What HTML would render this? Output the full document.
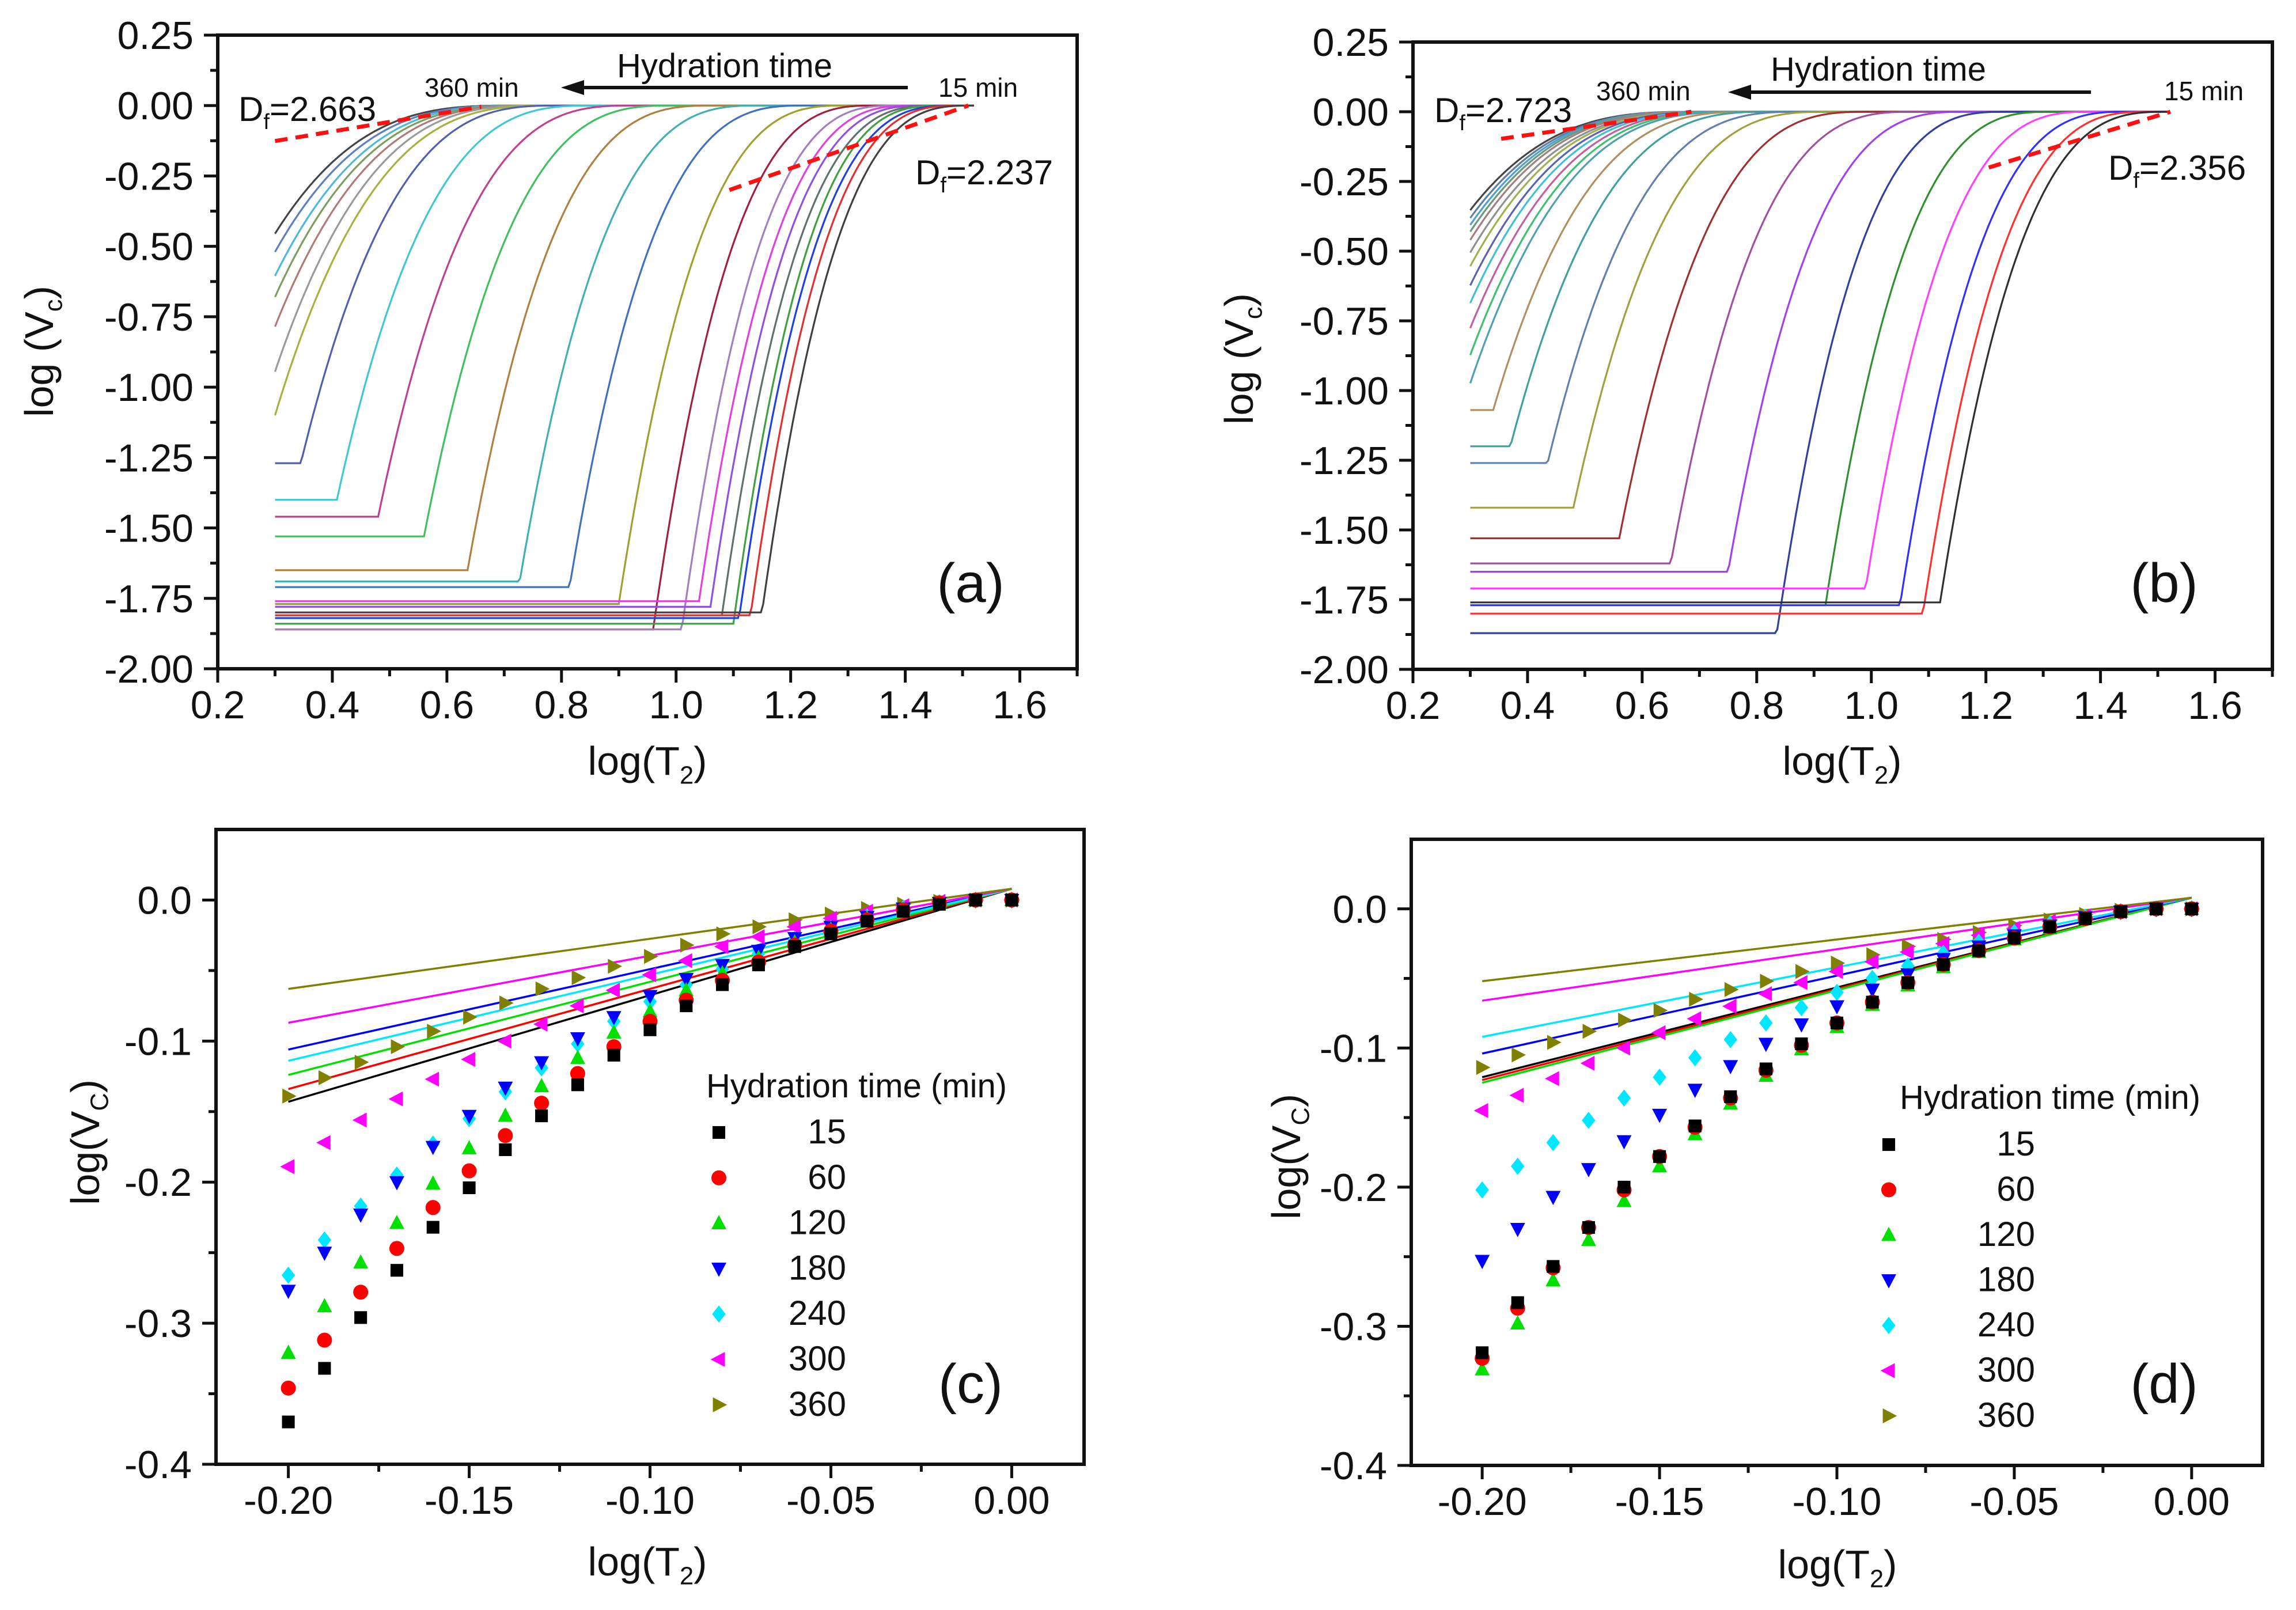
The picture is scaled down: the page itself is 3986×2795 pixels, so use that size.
<!DOCTYPE html>
<html>
<head>
<meta charset="utf-8">
<style>
html,body{margin:0;padding:0;background:#fff;}
svg{display:block;}
text{font-family:"Liberation Sans",Arial,sans-serif;fill:#111;}
</style>
</head>
<body>
<svg id="fig" xmlns="http://www.w3.org/2000/svg" width="3986" height="2795" viewBox="0 0 3986 2795"></svg>
<script>
// ---------- Panel (a) data ----------
const aStart = [-0.455,-0.52,-0.605,-0.68,-0.785,-0.945,-1.10,-1.27,-1.40,-1.46,-1.53,-1.65,-1.69,-1.71,-1.77,-1.86,-1.86,-1.76,-1.78,-1.81,-1.84,-1.82,-1.81,-1.80];
const aBreak = [0.3,0.3,0.3,0.3,0.3,0.3,0.3,0.345,0.408,0.48,0.56,0.636,0.727,0.814,0.90,0.96,1.01,1.04,1.06,1.08,1.10,1.11,1.13,1.15];
const aEnd   = [0.72,0.73,0.74,0.75,0.76,0.77,0.79,0.80,0.86,0.93,1.00,1.07,1.15,1.23,1.30,1.35,1.39,1.42,1.44,1.46,1.47,1.49,1.50,1.52];
const aColors = ["#444444","#5b7fbf","#4fb8d8","#7aa060","#b07a7a","#9a9a9a","#a8b040","#5060b0","#40c8d0","#c04090","#40c060","#b08040","#40b0b0","#4070c0","#a0a030","#a02040","#a080c0","#e040e0","#9050e0","#607070","#40a040","#2040e0","#e03030","#404040"];
// ---------- Panel (b) data ----------
const bStart = [-0.353,-0.381,-0.406,-0.43,-0.46,-0.505,-0.554,-0.623,-0.686,-0.776,-0.873,-0.974,-1.07,-1.20,-1.26,-1.42,-1.53,-1.62,-1.65,-1.87,-1.77,-1.71,-1.77,-1.80,-1.76];
const bBreak = [0.3,0.3,0.3,0.3,0.3,0.3,0.3,0.3,0.3,0.3,0.3,0.3,0.34,0.37,0.435,0.48,0.56,0.65,0.75,0.835,0.92,0.99,1.05,1.09,1.12];
const bEnd   = [0.70,0.705,0.71,0.715,0.72,0.73,0.735,0.74,0.75,0.76,0.77,0.78,0.80,0.83,0.88,0.93,1.00,1.08,1.17,1.24,1.32,1.39,1.45,1.49,1.52];
const bColors = ["#444444","#6080a0","#50a0d0","#6a9a80","#a08080","#909090","#a0b050","#6060b0","#40c0d0","#c060a0","#40c070","#50a0b0","#b09060","#40a0a0","#6080b0","#a0a040","#a03030","#a050a0","#a040f0","#3040a0","#309030","#ff40ff","#3030ff","#ff3030","#303030"];
// ---------- Panels (c),(d) data ----------
const xT2 = [-0.20,-0.19,-0.18,-0.17,-0.16,-0.15,-0.14,-0.13,-0.12,-0.11,-0.10,-0.09,-0.08,-0.07,-0.06,-0.05,-0.04,-0.03,-0.02,-0.01,0.00];
const seriesNames = ["15","60","120","180","240","300","360"];
const c15  = [-0.37,-0.332,-0.296,-0.2625,-0.232,-0.204,-0.177,-0.153,-0.131,-0.11,-0.092,-0.075,-0.06,-0.046,-0.033,-0.024,-0.015,-0.008,-0.003,0,0];
const c60  = [-0.346,-0.312,-0.278,-0.247,-0.218,-0.192,-0.167,-0.144,-0.123,-0.104,-0.086,-0.071,-0.057,-0.044,-0.032,-0.022,-0.014,-0.007,-0.002,0,0];
const c120 = [-0.321,-0.288,-0.257,-0.229,-0.201,-0.176,-0.153,-0.132,-0.112,-0.094,-0.079,-0.064,-0.052,-0.041,-0.030,-0.021,-0.013,-0.007,-0.002,0,0];
const c180 = [-0.277,-0.25,-0.223,-0.2,-0.175,-0.153,-0.133,-0.115,-0.098,-0.083,-0.068,-0.056,-0.046,-0.036,-0.027,-0.019,-0.012,-0.006,-0.002,0,0];
const c240 = [-0.266,-0.241,-0.217,-0.195,-0.173,-0.155,-0.136,-0.119,-0.102,-0.086,-0.072,-0.06,-0.049,-0.038,-0.028,-0.02,-0.012,-0.006,-0.002,0,0];
const c300 = [-0.189,-0.172,-0.156,-0.141,-0.127,-0.113,-0.1,-0.088,-0.075,-0.064,-0.053,-0.043,-0.033,-0.026,-0.019,-0.013,-0.008,-0.004,-0.001,0,0];
const c360 = [-0.139,-0.126,-0.115,-0.104,-0.093,-0.083,-0.073,-0.063,-0.055,-0.047,-0.04,-0.032,-0.024,-0.019,-0.014,-0.01,-0.006,-0.003,-0.001,0,0];
const cFitStart = [-0.143,-0.134,-0.124,-0.106,-0.114,-0.087,-0.063];
const cFitEnd   = [0.008,0.008,0.008,0.008,0.008,0.008,0.008];
const d15  = [-0.319,-0.283,-0.257,-0.229,-0.2,-0.178,-0.156,-0.135,-0.115,-0.097,-0.082,-0.067,-0.053,-0.04,-0.03,-0.021,-0.013,-0.007,-0.002,0,0];
const d60  = [-0.323,-0.287,-0.258,-0.229,-0.202,-0.178,-0.157,-0.136,-0.116,-0.098,-0.082,-0.067,-0.053,-0.04,-0.03,-0.021,-0.013,-0.007,-0.002,0,0];
const d120 = [-0.331,-0.298,-0.267,-0.238,-0.210,-0.185,-0.162,-0.140,-0.120,-0.101,-0.085,-0.069,-0.055,-0.042,-0.031,-0.022,-0.014,-0.007,-0.002,0,0];
const d180 = [-0.253,-0.23,-0.207,-0.187,-0.167,-0.148,-0.13,-0.113,-0.097,-0.083,-0.07,-0.058,-0.047,-0.036,-0.027,-0.019,-0.012,-0.006,-0.002,0,0];
const d240 = [-0.202,-0.185,-0.168,-0.152,-0.136,-0.121,-0.107,-0.094,-0.082,-0.071,-0.06,-0.05,-0.041,-0.032,-0.024,-0.017,-0.011,-0.006,-0.002,0,0];
const d300 = [-0.145,-0.134,-0.122,-0.111,-0.1,-0.089,-0.079,-0.07,-0.061,-0.053,-0.045,-0.038,-0.031,-0.025,-0.019,-0.014,-0.009,-0.005,-0.002,0,0];
const d360 = [-0.114,-0.105,-0.096,-0.088,-0.08,-0.073,-0.065,-0.058,-0.052,-0.045,-0.039,-0.033,-0.027,-0.022,-0.017,-0.012,-0.008,-0.004,-0.001,0,0];
const dFitStart = [-0.121,-0.123,-0.125,-0.104,-0.092,-0.066,-0.052];
const dFitEnd   = [0.008,0.008,0.008,0.008,0.008,0.008,0.008];
// tick labels
const abXTicks = ["0.2","0.4","0.6","0.8","1.0","1.2","1.4","1.6"];
const abYTicks = ["0.25","0.00","-0.25","-0.50","-0.75","-1.00","-1.25","-1.50","-1.75","-2.00"];
const cdXTicks = ["-0.20","-0.15","-0.10","-0.05","0.00"];
const cdYTicks = ["0.0","-0.1","-0.2","-0.3","-0.4"];

const NS = "http://www.w3.org/2000/svg";
const svg = document.getElementById("fig");
function mk(tag, attrs, name, parent){
  const el = document.createElementNS(NS, tag);
  for (const k in attrs) el.setAttribute(k, attrs[k]);
  
  
  (parent || svg).appendChild(el);
  return el;
}
function txt(str, x, y, size, anchor, name, parent, extra){
  const t = mk("text", Object.assign({x:x, y:y, "font-size":size, "text-anchor":anchor||"middle"}, extra||{}), name, parent);
  t.textContent = str;
  return t;
}
function panel(P){
  P.sx = v => P.x0 + (v - P.xmin) / (P.xmax - P.xmin) * (P.x1 - P.x0);
  P.sy = v => P.y1 - (v - P.ymin) / (P.ymax - P.ymin) * (P.y1 - P.y0);
  return P;
}
function frame(P, g, xTickVals, xLabels, xMinor, yTickVals, yLabels, yMinor){
  mk("rect", {x:P.x0, y:P.y0, width:P.x1-P.x0, height:P.y1-P.y0, fill:"none", stroke:"#111", "stroke-width":6}, "plot-frame", g);
  xTickVals.forEach((v,i)=>{
    const X = P.sx(v);
    mk("line", {x1:X, y1:P.y1, x2:X, y2:P.y1+24, stroke:"#111", "stroke-width":5}, "x-tick", g);
    txt(xLabels[i], X, P.y1+86, 68, "middle", "x-tick-label", g);
  });
  xMinor.forEach(v=>{
    const X = P.sx(v);
    mk("line", {x1:X, y1:P.y1, x2:X, y2:P.y1+13, stroke:"#111", "stroke-width":5}, "x-minor-tick", g);
  });
  yTickVals.forEach((v,i)=>{
    const Y = P.sy(v);
    mk("line", {x1:P.x0-24, y1:Y, x2:P.x0, y2:Y, stroke:"#111", "stroke-width":5}, "y-tick", g);
    txt(yLabels[i], P.x0-42, Y+24, 68, "end", "y-tick-label", g);
  });
  yMinor.forEach(v=>{
    const Y = P.sy(v);
    mk("line", {x1:P.x0-13, y1:Y, x2:P.x0, y2:Y, stroke:"#111", "stroke-width":5}, "y-minor-tick", g);
  });
}
function subTitle(g, base, sub, tail, x, y, size, rotate, name){
  const attrs = {x:x, y:y, "font-size":size, "text-anchor":"middle"};
  if (rotate) attrs.transform = "rotate(-90 "+x+" "+y+")";
  const t = mk("text", attrs, name, g);
  t.appendChild(document.createTextNode(base));
  const s = mk("tspan", {"font-size":size*0.62, dy:size*0.22}, name+"-subscript", t);
  s.textContent = sub;
  const r = mk("tspan", {dy:-size*0.22}, name+"-tail", t);
  r.textContent = tail;
  return t;
}
function curveY(p, xb, xe, x){
  if (x <= xb) return p;
  if (x >= xe) return 0;
  const t = (x - xb) / (xe - xb);
  return p * Math.pow(1 - t, 3);
}
function drawCurves(P, g, starts, breaks, ends, colors){
  for (let i = 0; i < starts.length; i++){
    let d = "";
    for (let x = 0.3; x <= 1.5201; x += 0.004){
      const y = curveY(starts[i], breaks[i], ends[i], x);
      d += (d ? "L" : "M") + P.sx(x).toFixed(1) + "," + P.sy(y).toFixed(1);
    }
    mk("path", {d:d, fill:"none", stroke:colors[i], "stroke-width":3.2}, "curve-"+i, g);
  }
}
function range(a, b, s){ const r=[]; for(let v=a; v<=b+1e-9; v+=s) r.push(+v.toFixed(4)); return r; }

// ---------- marker drawing ----------
const mColors = ["#000000","#ff0000","#00e000","#0000ff","#00e8ff","#ff00ff","#808000"];
function marker(g, k, X, Y, r, name){
  const c = mColors[k];
  if (k === 0) return mk("rect", {x:X-r*0.85, y:Y-r*0.85, width:r*1.7, height:r*1.7, fill:c}, name, g);
  if (k === 1) return mk("circle", {cx:X, cy:Y, r:r, fill:c}, name, g);
  let pts;
  if (k === 2) pts = [[X,Y-r*1.1],[X+r,Y+r*0.8],[X-r,Y+r*0.8]];
  if (k === 3) pts = [[X,Y+r*1.1],[X+r,Y-r*0.8],[X-r,Y-r*0.8]];
  if (k === 4) pts = [[X,Y-r*1.15],[X+r*0.9,Y],[X,Y+r*1.15],[X-r*0.9,Y]];
  if (k === 5) pts = [[X-r*1.1,Y],[X+r*0.8,Y-r],[X+r*0.8,Y+r]];
  if (k === 6) pts = [[X+r*1.1,Y],[X-r*0.8,Y-r],[X-r*0.8,Y+r]];
  return mk("polygon", {points:pts.map(p=>p.join(",")).join(" "), fill:c}, name, g);
}
function drawScatter(P, g, seriesList, fitStart, fitEnd){
  seriesList.forEach((s,k)=>{
    mk("line", {x1:P.sx(xT2[0]), y1:P.sy(fitStart[k]), x2:P.sx(0), y2:P.sy(fitEnd[k]), stroke:mColors[k], "stroke-width":3.5}, "fit-line-"+seriesNames[k], g);
  });
  for (let k = seriesList.length-1; k >= 0; k--){
    seriesList[k].forEach((v,i)=>{
      marker(g, k, P.sx(xT2[i]), P.sy(v), 13, "point-"+seriesNames[k]);
    });
  }
}
function legend(g, x, yTitle, labelRight, yFirst, step, titleX){
  txt("Hydration time (min)", titleX, yTitle, 58, "middle", "legend-title", g);
  seriesNames.forEach((n,k)=>{
    const Y = yFirst + k*step;
    const e = mk("g", {}, "legend-entry-"+n, g);
    marker(e, k, x, Y-19, 13, "legend-marker");
    txt(n, labelRight, Y, 60, "end", "legend-label", e);
  });
}
function arrowLabel(g, xFrom, xTo, y){
  mk("line", {x1:xFrom, y1:y, x2:xTo+30, y2:y, stroke:"#111", "stroke-width":6}, "hydration-arrow-shaft", g);
  mk("polygon", {points:(xTo)+","+y+" "+(xTo+40)+","+(y-13)+" "+(xTo+40)+","+(y+13), fill:"#111"}, "hydration-arrow-head", g);
}
function dfLabel(g, val, x, y, name){
  const t = mk("text", {x:x, y:y, "font-size":60, "text-anchor":"start"}, name, g);
  t.appendChild(document.createTextNode("D"));
  const s = mk("tspan", {"font-size":38, dy:14}, name+"-subscript", t);
  s.textContent = "f";
  const r = mk("tspan", {dy:-14}, name+"-value", t);
  r.textContent = "=" + val;
}
function dashed(P, g, x1, y1, x2, y2, name){
  mk("line", {x1:P.sx(x1), y1:P.sy(y1), x2:P.sx(x2), y2:P.sy(y2), stroke:"#ff1010", "stroke-width":7, "stroke-dasharray":"22,14"}, name, g);
}

// ===== Panel (a) =====
const PA = panel({x0:378, x1:1870, y0:61, y1:1161, xmin:0.2, xmax:1.7, ymin:-2.0, ymax:0.25});
const gA = mk("g", {}, "panel-a");
drawCurves(PA, gA, aStart, aBreak, aEnd, aColors);
frame(PA, gA, range(0.2,1.6,0.2), abXTicks, range(0.3,1.7,0.2), range(-2.0,0.25,0.25).reverse(), abYTicks, range(-1.875,0.125,0.25));
dashed(PA, gA, 0.3, -0.126, 0.66, -0.004, "fit-dashed-left");
dashed(PA, gA, 1.093, -0.30, 1.51, 0.0, "fit-dashed-right");
dfLabel(gA, "2.663", 414, 210, "df-label-left");
dfLabel(gA, "2.237", 1589, 320, "df-label-right");
txt("Hydration time", 1258, 134, 58, "middle", "hydration-time-label", gA);
arrowLabel(gA, 1576, 974, 152);
txt("360 min", 737, 168, 46, "start", "label-360-min", gA);
txt("15 min", 1629, 168, 46, "start", "label-15-min", gA);
txt("(a)", 1685, 1045, 96, "middle", "panel-label-a", gA);
subTitle(gA, "log (V", "c", ")", 92, 610, 70, true, "y-axis-title");
subTitle(gA, "log(T", "2", ")", 1124, 1345, 70, false, "x-axis-title");

// ===== Panel (b) =====
const PB = panel({x0:2453, x1:3945, y0:73, y1:1162, xmin:0.2, xmax:1.7, ymin:-2.0, ymax:0.25});
const gB = mk("g", {}, "panel-b");
drawCurves(PB, gB, bStart, bBreak, bEnd, bColors);
frame(PB, gB, range(0.2,1.6,0.2), abXTicks, range(0.3,1.7,0.2), range(-2.0,0.25,0.25).reverse(), abYTicks, range(-1.875,0.125,0.25));
dashed(PB, gB, 0.354, -0.097, 0.686, 0.0, "fit-dashed-left");
dashed(PB, gB, 1.205, -0.20, 1.522, 0.0, "fit-dashed-right");
dfLabel(gB, "2.723", 2490, 212, "df-label-left");
dfLabel(gB, "2.356", 3660, 312, "df-label-right");
txt("Hydration time", 3261, 140, 58, "middle", "hydration-time-label", gB);
arrowLabel(gB, 3630, 3000, 160);
txt("360 min", 2771, 174, 46, "start", "label-360-min", gB);
txt("15 min", 3757, 174, 46, "start", "label-15-min", gB);
txt("(b)", 3757, 1045, 96, "middle", "panel-label-b", gB);
subTitle(gB, "log (V", "c", ")", 2175, 623, 70, true, "y-axis-title");
subTitle(gB, "log(T", "2", ")", 3198, 1345, 70, false, "x-axis-title");

// ===== Panel (c) =====
const PC = panel({x0:375, x1:1882, y0:1440, y1:2542, xmin:-0.22, xmax:0.02, ymin:-0.4, ymax:0.05});
const gC = mk("g", {}, "panel-c");
drawScatter(PC, gC, [c15,c60,c120,c180,c240,c300,c360], cFitStart, cFitEnd);
frame(PC, gC, range(-0.2,0,0.05), cdXTicks, range(-0.175,0.0,0.05), range(-0.4,0,0.1).reverse(), cdYTicks, range(-0.35,0.0,0.1));
legend(gC, 1248, 1905, 1469, 1985, 78.8, 1487);
txt("(c)", 1685, 2435, 96, "middle", "panel-label-c", gC);
subTitle(gC, "log(V", "C", ")", 172, 1983, 70, true, "y-axis-title");
subTitle(gC, "log(T", "2", ")", 1124, 2735, 70, false, "x-axis-title");

// ===== Panel (d) =====
const PD = panel({x0:2450, x1:3928, y0:1457, y1:2544, xmin:-0.22, xmax:0.02, ymin:-0.4, ymax:0.05});
const gD = mk("g", {}, "panel-d");
drawScatter(PD, gD, [d15,d60,d120,d180,d240,d300,d360], dFitStart, dFitEnd);
frame(PD, gD, range(-0.2,0,0.05), cdXTicks, range(-0.175,0.0,0.05), range(-0.4,0,0.1).reverse(), cdYTicks, range(-0.35,0.0,0.1));
legend(gD, 3279, 1925, 3533, 2006, 78.5, 3559);
txt("(d)", 3757, 2435, 96, "middle", "panel-label-d", gD);
subTitle(gD, "log(V", "C", ")", 2257, 2008, 70, true, "y-axis-title");
subTitle(gD, "log(T", "2", ")", 3190, 2740, 70, false, "x-axis-title");
</script>
</body>
</html>
